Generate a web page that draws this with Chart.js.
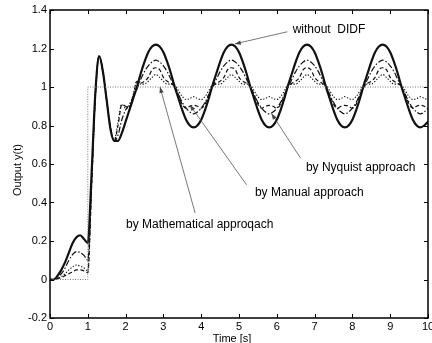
<!DOCTYPE html>
<html><head><meta charset="utf-8">
<script src="https://cdn.jsdelivr.net/npm/chart.js@4/dist/chart.umd.min.js"></script>
<style>html,body{margin:0;padding:0;background:#fff;}canvas{display:block;}</style>
</head><body>
<canvas id="c" width="432" height="343"></canvas>
<script>
// ---- data ----
const time = [0,0.1,0.2,0.3,0.4,0.5,0.6,0.7,0.8,0.9,1,1.1,1.2,1.3,1.4,1.5,1.6,1.7,1.8,1.9,2,2.1,2.2,2.3,2.4,2.5,2.6,2.7,2.8,2.9,3,3.1,3.2,3.3,3.4,3.5,3.6,3.7,3.8,3.9,4,4.1,4.2,4.3,4.4,4.5,4.6,4.7,4.8,4.9,5,5.1,5.2,5.3,5.4,5.5,5.6,5.7,5.8,5.9,6,6.1,6.2,6.3,6.4,6.5,6.6,6.7,6.8,6.9,7,7.1,7.2,7.3,7.4,7.5,7.6,7.7,7.8,7.9,8,8.1,8.2,8.3,8.4,8.5,8.6,8.7,8.8,8.9,9,9.1,9.2,9.3,9.4,9.5,9.6,9.7,9.8,9.9,10];

const stepTime  = [0, 1, 1, 10];
const stepValue = [0, 0, 1, 1];

const withoutDIDF = [0,0,0.02,0.05,0.09,0.14,0.19,0.22,0.23,0.21,0.19,0.55,0.97,1.16,1.08,0.93,0.78,0.72,0.72,0.76,0.82,0.88,0.94,1.00,
  1.07,1.13,1.18,1.21,
  1.22,1.21,1.18,1.13,1.07,1.00,0.94,0.88,0.83,0.80,0.79,0.80,0.83,0.88,0.94,1.01,1.07,1.13,1.18,1.21,
  1.22,1.21,1.18,1.13,1.07,1.00,0.94,0.88,0.83,0.80,0.79,0.80,0.83,0.88,0.94,1.01,1.07,1.13,1.18,1.21,
  1.22,1.21,1.18,1.13,1.07,1.00,0.94,0.88,0.83,0.80,0.79,0.80,0.83,0.88,0.94,1.01,1.07,1.13,1.18,1.21,
  1.22,1.21,1.18,1.13,1.07,1.00,0.94,0.88,0.83,0.80,0.79,0.80,0.82];

const byNyquist = [0,0,0.01,0.03,0.06,0.10,0.13,0.145,0.14,0.125,0.10,0.52,0.96,1.16,1.08,0.93,0.79,0.72,0.75,0.83,0.88,0.91,0.95,0.99,
  1.04,1.08,1.11,1.13,
  1.14,1.13,1.11,1.08,1.04,1.00,0.96,0.92,0.89,0.87,0.86,0.87,0.89,0.92,0.96,1.00,1.04,1.08,1.11,1.13,
  1.14,1.13,1.11,1.08,1.04,1.00,0.96,0.92,0.89,0.87,0.86,0.87,0.89,0.92,0.96,1.00,1.04,1.08,1.11,1.13,
  1.14,1.13,1.11,1.08,1.04,1.00,0.96,0.92,0.89,0.87,0.86,0.87,0.89,0.92,0.96,1.00,1.04,1.08,1.11,1.13,
  1.14,1.13,1.11,1.08,1.04,1.00,0.96,0.92,0.89,0.87,0.86,0.87,0.89];

const byManual = [0,0,0.005,0.01,0.02,0.03,0.04,0.05,0.05,0.045,0.035,0.48,0.95,1.16,1.08,0.93,0.79,0.72,0.80,0.91,0.90,0.89,0.95,1.03,
  1.02,1.03,1.05,1.09,
  1.10,1.09,1.05,1.03,1.02,1.00,0.96,0.91,0.89,0.90,0.905,0.90,0.89,0.91,0.96,1.00,1.02,1.03,1.05,1.09,
  1.10,1.09,1.05,1.03,1.02,1.00,0.96,0.91,0.89,0.90,0.905,0.90,0.89,0.91,0.96,1.00,1.02,1.03,1.05,1.09,
  1.10,1.09,1.05,1.03,1.02,1.00,0.96,0.91,0.89,0.90,0.905,0.90,0.89,0.91,0.96,1.00,1.02,1.03,1.05,1.09,
  1.10,1.09,1.05,1.03,1.02,1.00,0.96,0.91,0.89,0.90,0.905,0.90,0.89];

const byMathematical = [0,0,0.005,0.015,0.03,0.05,0.065,0.075,0.07,0.06,0.045,0.48,0.95,1.16,1.08,0.93,0.79,0.72,0.82,0.91,0.89,0.90,0.96,1.03,
  1.015,1.015,1.03,1.05,
  1.065,1.05,1.03,1.015,1.015,1.01,0.98,0.95,0.935,0.94,0.95,0.94,0.935,0.95,0.98,1.01,1.015,1.015,1.03,1.05,
  1.065,1.05,1.03,1.015,1.015,1.01,0.98,0.95,0.935,0.94,0.95,0.94,0.935,0.95,0.98,1.01,1.015,1.015,1.03,1.05,
  1.065,1.05,1.03,1.015,1.015,1.01,0.98,0.95,0.935,0.94,0.95,0.94,0.935,0.95,0.98,1.01,1.015,1.015,1.03,1.05,
  1.065,1.05,1.03,1.015,1.015,1.01,0.98,0.95,0.935,0.94,0.95,0.94,0.935];

const xTickValues = [0,1,2,3,4,5,6,7,8,9,10];
const yTickValues = [-0.2,0,0.2,0.4,0.6,0.8,1,1.2,1.4];

const xTitle = 'Time [s]';
const yTitle = 'Output y(t)';

// annotation texts with arrow start/end in data units
const notes = [
  {text:'without  DIDF',             at:[6.42,1.299], from:[6.28,1.287], to:[4.89,1.224]},
  {text:'by Nyquist approach',       at:[6.77,0.579], from:[6.63,0.630], to:[5.86,0.862]},
  {text:'by Manual approach',        at:[5.42,0.449], from:[5.20,0.492], to:[3.70,0.907]},
  {text:'by Mathematical approqach', at:[2.01,0.285], from:[3.84,0.345], to:[2.91,1.000]}
];

// ---- chart ----
const FONT = '"Liberation Sans", Arial, Helvetica, sans-serif';
Chart.defaults.font.family = FONT;
const pts = (xs, ys) => xs.map((x, i) => ({x, y: ys[i]}));

const framePlugin = {
  id: 'frame',
  beforeDraw(chart) {
    const ctx = chart.ctx;
    ctx.save(); ctx.fillStyle = '#fff'; ctx.fillRect(0, 0, chart.width, chart.height); ctx.restore();
  },
  afterDatasetsDraw(chart) {
    const {ctx, chartArea: a, scales: {x, y}} = chart;
    ctx.save();
    // annotation arrows
    ctx.strokeStyle = '#555'; ctx.fillStyle = '#444'; ctx.lineWidth = 0.8;
    for (const n of notes) {
      const x0 = x.getPixelForValue(n.from[0]), y0 = y.getPixelForValue(n.from[1]);
      const x1 = x.getPixelForValue(n.to[0]),   y1 = y.getPixelForValue(n.to[1]);
      ctx.beginPath(); ctx.moveTo(x0, y0); ctx.lineTo(x1, y1); ctx.stroke();
      const ang = Math.atan2(y1 - y0, x1 - x0), L = 6, W = 2.2;
      ctx.beginPath();
      ctx.moveTo(x1, y1);
      ctx.lineTo(x1 - L*Math.cos(ang) + W*Math.sin(ang), y1 - L*Math.sin(ang) - W*Math.cos(ang));
      ctx.lineTo(x1 - L*Math.cos(ang) - W*Math.sin(ang), y1 - L*Math.sin(ang) + W*Math.cos(ang));
      ctx.closePath(); ctx.fill();
    }
    ctx.fillStyle = '#000';
    ctx.font = '12px ' + FONT; ctx.textAlign = 'left'; ctx.textBaseline = 'middle';
    for (const n of notes) ctx.fillText(n.text, x.getPixelForValue(n.at[0]), y.getPixelForValue(n.at[1]));
    // frame
    ctx.strokeStyle = '#000'; ctx.lineWidth = 1.5;
    ctx.strokeRect(a.left, a.top, a.right - a.left, a.bottom - a.top);
    // inward ticks on all four sides
    ctx.lineWidth = 1; ctx.beginPath();
    for (const t of x.ticks) {
      const p = Math.round(x.getPixelForValue(t.value)) + 0.5;
      ctx.moveTo(p, a.bottom); ctx.lineTo(p, a.bottom - 4);
      ctx.moveTo(p, a.top); ctx.lineTo(p, a.top + 4);
    }
    for (const t of y.ticks) {
      const p = Math.round(y.getPixelForValue(t.value)) + 0.5;
      ctx.moveTo(a.left, p); ctx.lineTo(a.left + 4, p);
      ctx.moveTo(a.right, p); ctx.lineTo(a.right - 4, p);
    }
    ctx.stroke();
    // axis titles
    ctx.font = '11px ' + FONT; ctx.textAlign = 'center'; ctx.textBaseline = 'alphabetic';
    ctx.fillText(xTitle, 232, 342);
    ctx.translate(21, 170); ctx.rotate(-Math.PI/2);
    ctx.fillText(yTitle, 0, 0);
    ctx.restore();
  }
};

const lineBase = {pointRadius: 0, fill: false, cubicInterpolationMode: 'monotone', borderColor: '#111'};

new Chart(document.getElementById('c'), {
  type: 'line',
  data: {
    datasets: [
      {...lineBase, label: 'Reference step', data: pts(stepTime, stepValue), cubicInterpolationMode: 'default', tension: 0, borderColor: '#777', borderWidth: 1, borderDash: [1, 1.5]},
      {...lineBase, label: 'by Mathematical approqach', data: pts(time, byMathematical), borderWidth: 1.1, borderDash: [1.3, 1.7]},
      {...lineBase, label: 'by Manual approach', data: pts(time, byManual), borderWidth: 1.2, borderDash: [4, 2.5]},
      {...lineBase, label: 'by Nyquist approach', data: pts(time, byNyquist), borderWidth: 1.2, borderDash: [6, 2, 1.5, 2]},
      {...lineBase, label: 'without DIDF', data: pts(time, withoutDIDF), borderWidth: 2.2}
    ]
  },
  options: {
    responsive: false, animation: false, devicePixelRatio: 1,
    layout: {padding: {top: 10, right: 4, left: 0, bottom: 0}},
    plugins: {legend: {display: false}, tooltip: {enabled: false}},
    scales: {
      x: {
        type: 'linear', min: 0, max: 10,
        afterBuildTicks: s => { s.ticks = xTickValues.map(v => ({value: v})); },
        afterFit: s => { s.height = 25; s.paddingLeft = 0; s.paddingRight = 0; },
        ticks: {color: '#000', font: {size: 11}, padding: 2, maxRotation: 0, autoSkip: false, callback: v => String(v)},
        grid: {display: false, drawTicks: false}, border: {display: false}
      },
      y: {
        type: 'linear', min: -0.2, max: 1.4,
        afterBuildTicks: s => { s.ticks = yTickValues.map(v => ({value: v})); },
        afterFit: s => { s.width = 50; s.paddingTop = 0; s.paddingBottom = 0; },
        ticks: {color: '#000', font: {size: 11}, padding: 3, autoSkip: false, callback: v => String(Math.round(v * 10) / 10)},
        grid: {display: false, drawTicks: false}, border: {display: false}
      }
    }
  },
  plugins: [framePlugin]
});
</script>
</body></html>
